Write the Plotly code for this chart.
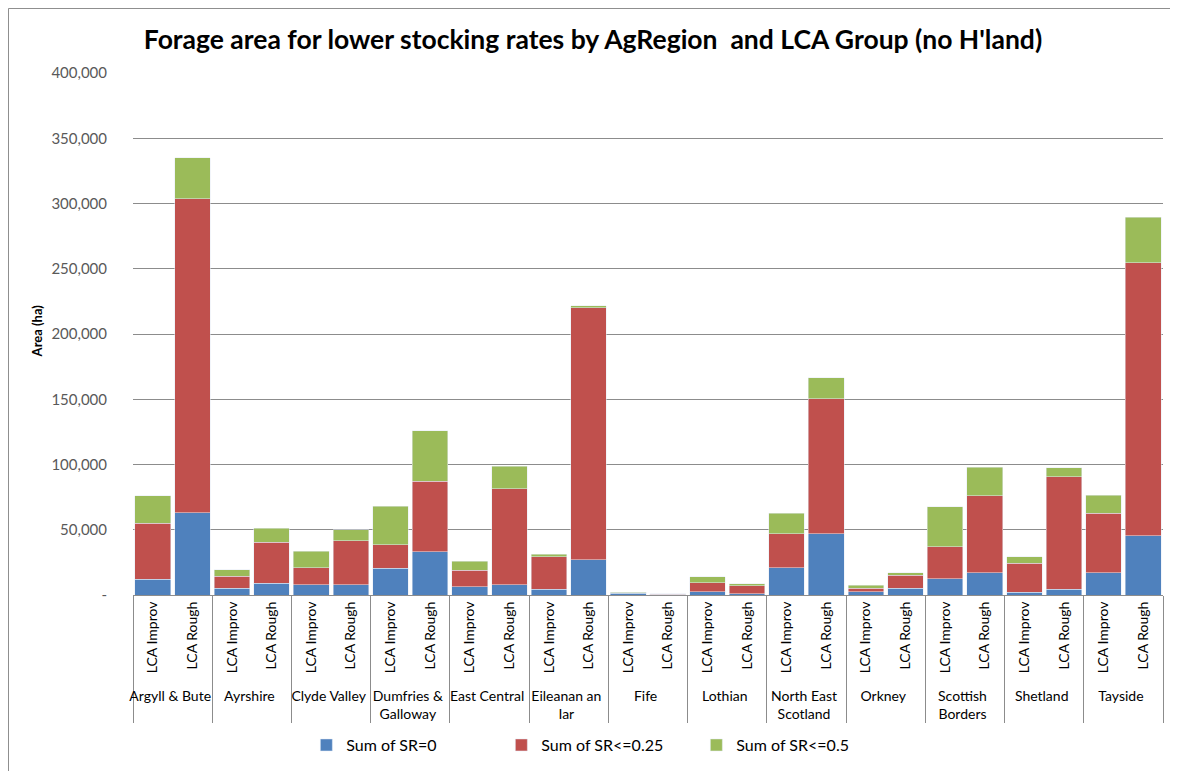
import plotly.graph_objects as go

regions = ["Argyll & Bute", "Ayrshire", "Clyde Valley", "Dumfries &<br>Galloway",
           "East Central", "Eileanan an<br>Iar", "Fife", "Lothian", "North East<br>Scotland",
           "Orkney", "Scottish<br>Borders", "Shetland", "Tayside"]
groups = ["LCA Improv", "LCA Rough"]

# values per region: (Improv, Rough)
sr0 = [12000, 63000, 5000, 9000, 8000, 8000, 20500, 33000, 6500, 8000, 4300, 27000,
       1500, 200, 2500, 1000, 21000, 47000, 2500, 5000, 12500, 17000, 2000, 4500, 17000, 45500]
sr025 = [43000, 240500, 9500, 31500, 13000, 33500, 18000, 54000, 12500, 73500, 25000, 193000,
         300, 300, 7000, 6000, 26000, 103500, 2500, 10000, 24500, 59000, 22500, 86000, 45500, 209000]
sr05 = [21000, 31500, 5000, 10500, 12500, 8500, 29500, 39000, 7000, 17000, 2000, 1500,
        400, 500, 4500, 1500, 15500, 16000, 2500, 2000, 30500, 22000, 5000, 7000, 14000, 35000]

yticks = [0, 50000, 100000, 150000, 200000, 250000, 300000, 350000, 400000]
yticktext = ["-", "50,000", "100,000", "150,000", "200,000", "250,000", "300,000", "350,000", "400,000"]

xcat = [[r for r in regions for g in groups], [g for r in regions for g in groups]]

fig = go.Figure()
fig.add_trace(go.Bar(x=xcat, y=sr0, name="Sum of SR=0", marker_color="#4F81BD"))
fig.add_trace(go.Bar(x=xcat, y=sr025, name="Sum of SR<=0.25", marker_color="#C0504D"))
fig.add_trace(go.Bar(x=xcat, y=sr05, name="Sum of SR<=0.5", marker_color="#9BBB59"))

# page has an 8px body margin, so the figure is sized/offset to compensate
fig.update_layout(
    width=1170, height=763,
    barmode="stack", bargap=0.1,
    paper_bgcolor="white", plot_bgcolor="white",
    margin=dict(l=125, r=15, t=65, b=176),
    font=dict(family="Lato, Noto Sans, sans-serif", color="#1a1a1a"),
    title=dict(text="<b>Forage area for lower stocking rates by AgRegion  and LCA Group (no H'land)</b>",
               x=0.5, xref="container", xanchor="center", y=0.958, yanchor="middle",
               font=dict(size=26.5, color="#000000")),
    legend=dict(orientation="h", xref="container", yref="container", x=0.505, xanchor="center",
                y=0.034, yanchor="middle", font=dict(size=16, color="#000000"),
                entrywidth=150, traceorder="normal"),
    showlegend=True,
)
fig.update_xaxes(type="multicategory", tickangle=-90, showline=True, linecolor="#8c8c8c",
                 showdividers=True, dividercolor="#8c8c8c", dividerwidth=1, automargin=False,
                 tickfont=dict(size=14, color="#000000"), ticks="")
fig.update_yaxes(range=[0, 400000], tickvals=yticks, ticktext=yticktext, automargin=False,
                 showgrid=True, gridcolor="#8c8c8c", gridwidth=1, zeroline=False,
                 ticks="", tickfont=dict(size=15, color="#595959"), ticklabelstandoff=25)

fig.add_annotation(text="<b>Area (ha)</b>", textangle=-90, xref="paper", yref="paper",
                   x=0, y=0.505, xanchor="center", yanchor="middle", xshift=-96,
                   showarrow=False, font=dict(size=13, color="#000000"))

# chart frame
fig.add_shape(type="rect", xref="paper", yref="paper", x0=-0.1209, x1=1.2, y0=-0.9, y1=1.1236,
              line=dict(color="#8c8c8c", width=1), layer="below")

fig.write_html("out.html")
